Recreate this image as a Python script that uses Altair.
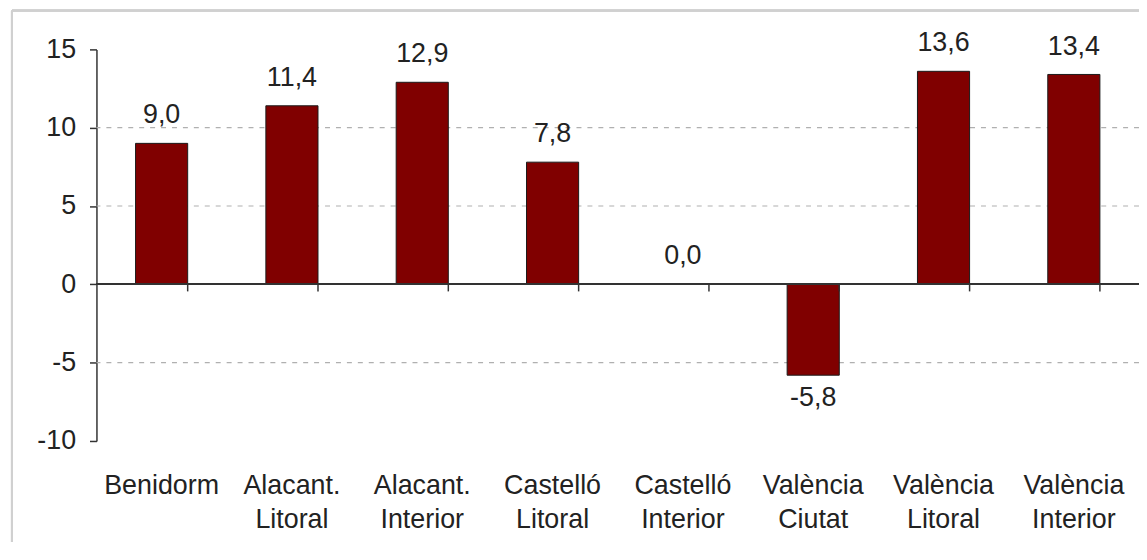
import altair as alt
import pandas as pd

categories = ["Benidorm", "Alacant.\nLitoral", "Alacant.\nInterior", "Castelló\nLitoral",
              "Castelló\nInterior", "València\nCiutat", "València\nLitoral", "València\nInterior"]
values = [9.0, 11.4, 12.9, 7.8, 0.0, -5.8, 13.6, 13.4]
grid_values = [10, 5, -5]
y_ticks = [-10, -5, 0, 5, 10, 15]

df = pd.DataFrame({"cat": categories, "val": values})
df["label"] = [f"{v:.1f}".replace(".", ",") for v in values]
df["pos"] = df["val"] >= 0
grid_df = pd.DataFrame({"g": grid_values})

FONT = "Liberation Sans"
FS = 27
TXT = "#222222"

x_enc = alt.X("cat:N", sort=categories,
              scale=alt.Scale(paddingInner=0.6, paddingOuter=0.3),
              axis=alt.Axis(title=None, domain=False, ticks=False, labelAngle=0,
                            labelExpr="split(datum.label, '\\n')",
                            labelFont=FONT, labelFontSize=FS, labelColor=TXT,
                            labelPadding=32, labelLineHeight=34, labelBaseline="top"))
y_scale = alt.Scale(domain=[-10, 15], nice=False, zero=False)
y_axis = alt.Axis(title=None, values=y_ticks, grid=False, domainColor="#333333",
                  domainWidth=1.5, tickColor="#333333", tickWidth=1.5, tickSize=7,
                  labelExpr="'' + datum.value",
                  labelFont=FONT, labelFontSize=FS, labelColor=TXT, labelPadding=14)

base = alt.Chart(df)

grid = alt.Chart(grid_df).mark_rule(color="#b0b0b0", strokeDash=[5, 6], strokeWidth=1.2).encode(
    y=alt.Y("g:Q", scale=y_scale, axis=y_axis)
)

bars = base.mark_bar(color="#800000", stroke="#1a1a1a", strokeWidth=1).encode(
    x=x_enc, y=alt.Y("val:Q", scale=y_scale, axis=y_axis), y2=alt.datum(0)
)

zero = base.mark_rule(color="#333333", strokeWidth=1.5).encode(
    x=alt.value(0), x2=alt.value(1049), y=alt.Y(datum=0)
)

ticks = base.mark_rule(color="#333333", strokeWidth=1.5).encode(
    x=alt.X("cat:N", sort=categories, bandPosition=1),
    y=alt.Y(datum=0), y2=alt.Y2(datum=-0.45)
)

pos_labels = base.transform_filter("datum.pos").mark_text(
    font=FONT, fontSize=FS, color=TXT, baseline="alphabetic", dy=-20
).encode(x=alt.X("cat:N", sort=categories), y=alt.Y("val:Q"), text="label:N")

neg_labels = base.transform_filter("!datum.pos").mark_text(
    font=FONT, fontSize=FS, color=TXT, baseline="top", dy=10
).encode(x=alt.X("cat:N", sort=categories), y=alt.Y("val:Q"), text="label:N")

border_left = base.mark_rule(color="#d0d0d0", strokeWidth=2).encode(
    x=alt.value(-85), y=alt.value(-39), y2=alt.value(500)
)
border_top = base.mark_rule(color="#d0d0d0", strokeWidth=2).encode(
    x=alt.value(-85), x2=alt.value(1049), y=alt.value(-39)
)

chart = alt.layer(border_left, border_top, grid, bars, zero, ticks, pos_labels, neg_labels).properties(
    width=1049, height=394,
    autosize=alt.AutoSizeParams(type="none"),
    padding={"left": 89, "top": 40, "right": 0, "bottom": 100},
).configure(background="white").configure_view(stroke=None)

chart.save("out.html", embed_options={"renderer": "svg", "actions": False})
